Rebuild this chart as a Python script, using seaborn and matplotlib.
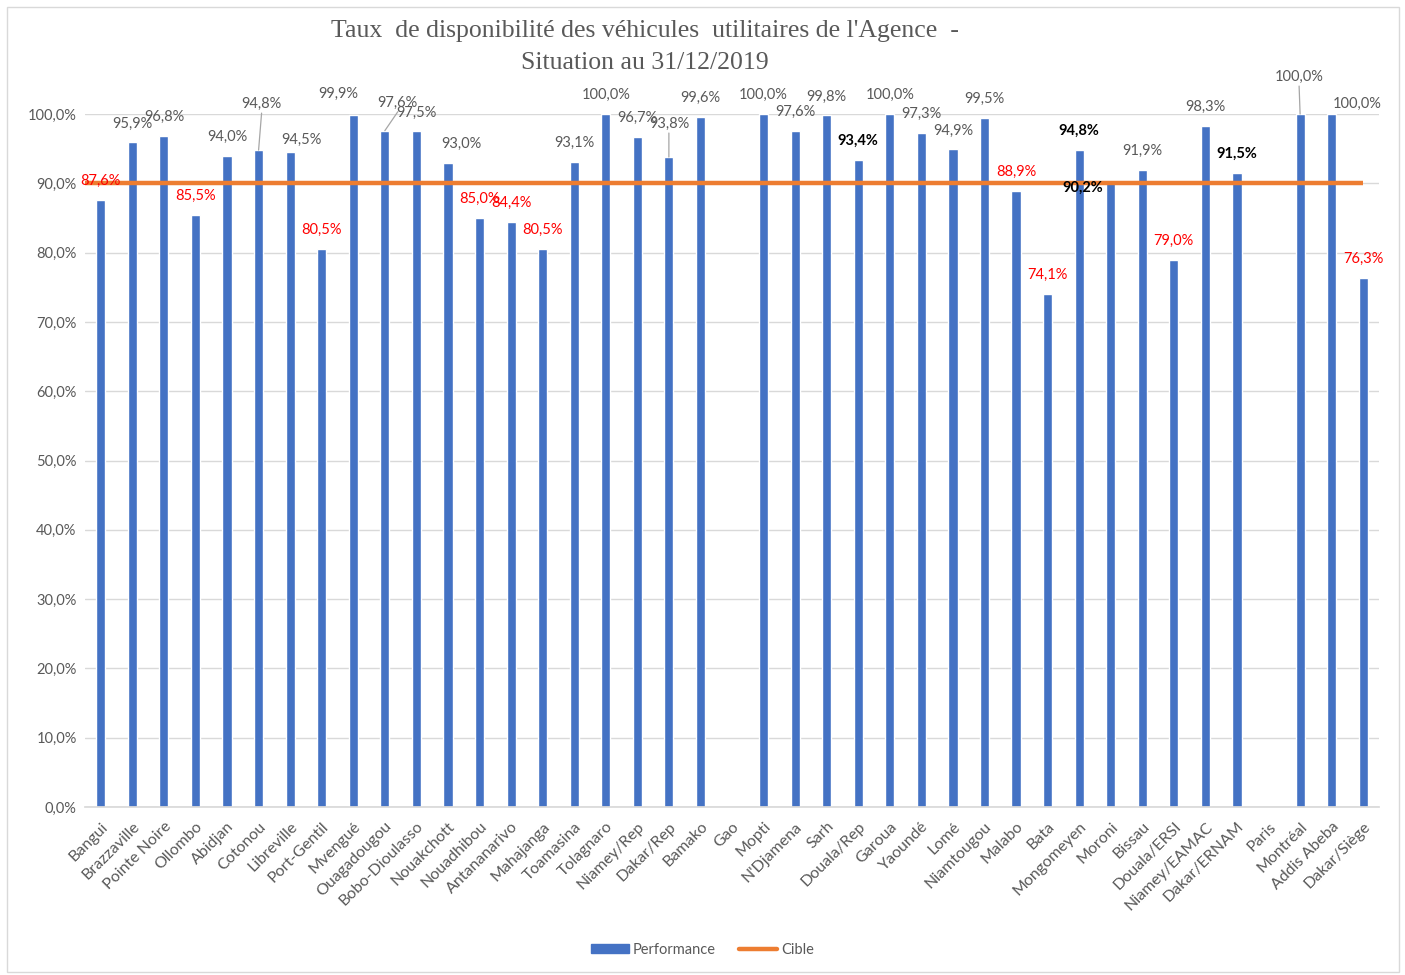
import matplotlib
matplotlib.use("Agg")
import matplotlib.pyplot as plt
from matplotlib.patches import Rectangle, Patch
from matplotlib.lines import Line2D
import numpy as np
import pandas as pd
import seaborn as sns

# Sites and availability rates (%) at 31/12/2019; NaN = no data
sites = ["Bangui", "Brazzaville", "Pointe Noire", "Ollombo", "Abidjan", "Cotonou",
         "Libreville", "Port-Gentil", "Mvengué", "Ouagadougou", "Bobo-Dioulasso",
         "Nouakchott", "Nouadhibou", "Antananarivo", "Mahajanga", "Toamasina",
         "Tolagnaro", "Niamey/Rep", "Dakar/Rep", "Bamako", "Gao", "Mopti",
         "N'Djamena", "Sarh", "Douala/Rep", "Garoua", "Yaoundé", "Lomé",
         "Niamtougou", "Malabo", "Bata", "Mongomeyen", "Moroni", "Bissau",
         "Douala/ERSI", "Niamey/EAMAC", "Dakar/ERNAM", "Paris", "Montréal",
         "Addis Abeba", "Dakar/Siège"]
performance = [87.6, 95.9, 96.8, 85.5, 94.0, 94.8,
               94.5, 80.5, 99.9, 97.6, 97.5,
               93.0, 85.0, 84.4, 80.5, 93.1,
               100.0, 96.7, 93.8, 99.6, np.nan, 100.0,
               97.6, 99.8, 93.4, 100.0, 97.3, 94.9,
               99.5, 88.9, 74.1, 94.8, 90.2, 91.9,
               79.0, 98.3, 91.5, np.nan, 100.0,
               100.0, 76.3]
cible = 90.0
bold_labels = ["Douala/Rep", "Mongomeyen", "Moroni", "Dakar/ERNAM"]

# label placement tweaks (pixels from bar top), and labels that get a leader line
label_shift = {"Cotonou": (3, 46), "Libreville": (11, 12), "Mvengué": (-15, 21),
               "Ouagadougou": (13, 28), "Nouakchott": (13, 19), "Dakar/Rep": (0, 33),
               "Moroni": (-28, -6), "Montréal": (-1, 37), "Addis Abeba": (26, 10)}
leaders = ["Cotonou", "Ouagadougou", "Dakar/Rep", "Montréal"]

df = pd.DataFrame({"site": sites, "Performance": performance})

BLUE = "#4472C4"
ORANGE = "#ED7D31"
GREY = "#595959"

sns.set_theme(style="white")
plt.rcParams["font.family"] = ["Lato", "DejaVu Sans"]

fig = plt.figure(figsize=(14.05, 9.75), dpi=100)
ax = fig.add_axes([0.0605, 0.1723, 0.921, 0.7107])

sns.barplot(data=df, x="site", y="Performance", order=sites, color=BLUE,
            width=0.29, saturation=1, ax=ax, zorder=2)

ax.hlines(cible, -0.65, len(sites) - 1, color=ORANGE, lw=3.2, zorder=3)

ax.set_xlim(-0.5, len(sites) - 0.5)
ax.set_ylim(0, 100)
ax.set_yticks(np.arange(0, 101, 10))
ax.set_yticklabels([f"{t:.1f}%".replace(".", ",") for t in np.arange(0, 101, 10)],
                   color=GREY, fontsize=10.5)
ax.yaxis.grid(True, color="#D9D9D9", lw=1, zorder=0)
ax.set_axisbelow(True)
for s in ["top", "right", "left"]:
    ax.spines[s].set_visible(False)
ax.spines["bottom"].set_color("#D9D9D9")
ax.tick_params(axis="y", length=0, pad=6)
ax.tick_params(axis="x", length=0, pad=9)
ax.set_xticks(range(len(sites)))
ax.set_xticklabels(sites, rotation=45, ha="right", rotation_mode="anchor",
                   color=GREY, fontsize=11.5)
ax.set_xlabel("")
ax.set_ylabel("")

for i, (site, v) in enumerate(zip(sites, performance)):
    if np.isnan(v):
        continue
    dx, dy = label_shift.get(site, (0, 19))
    txt = f"{v:.1f}%".replace(".", ",")
    if v < cible:
        color, weight = "#FF0000", "normal"
    elif site in bold_labels:
        color, weight = "black", "bold"
    else:
        color, weight = GREY, "normal"
    ax.annotate(txt, xy=(i, v), xytext=(dx, dy), textcoords="offset pixels",
                ha="center", va="center", fontsize=10.5, color=color,
                fontweight=weight, annotation_clip=False, zorder=5)
    if site in leaders:
        ax.annotate("", xy=(i, v), xytext=(dx, dy - 9), textcoords="offset pixels",
                    arrowprops=dict(arrowstyle="-", color="#A6A6A6", lw=0.9,
                                    shrinkA=0, shrinkB=0),
                    annotation_clip=False)

fig.text(0.459, 0.968, "Taux  de disponibilité des véhicules  utilitaires de l'Agence  -",
         ha="center", va="center", fontsize=18.5, color=GREY, family="Liberation Serif")
fig.text(0.459, 0.935, "Situation au 31/12/2019",
         ha="center", va="center", fontsize=18.5, color=GREY, family="Liberation Serif")

handles = [Patch(facecolor=BLUE, edgecolor=BLUE),
           Line2D([0], [0], color=ORANGE, lw=3.2)]
leg = fig.legend(handles, ["Performance", "Cible"], loc="center",
                 bbox_to_anchor=(0.5, 0.026), ncol=2, frameon=False,
                 fontsize=10.5, handlelength=2.6, handleheight=0.6,
                 columnspacing=1.6, handletextpad=0.3)
for t in leg.get_texts():
    t.set_color(GREY)

fig.patches.append(Rectangle((0.005, 0.003), 0.991, 0.99, transform=fig.transFigure,
                             fill=False, edgecolor="#D9D9D9", lw=1))

fig.savefig("out.png", dpi=100)
